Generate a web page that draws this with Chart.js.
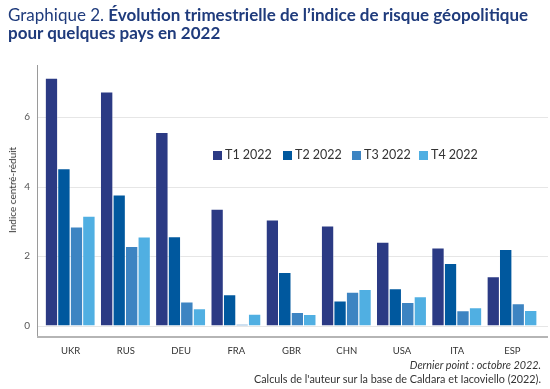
<!DOCTYPE html>
<html>
<head>
<meta charset="utf-8">
<script src="https://cdn.jsdelivr.net/npm/chart.js@4/dist/chart.umd.min.js"></script>
<style>
    body { margin: 0; background: #fff; font-family: Lato, "Open Sans", sans-serif; }
    #wrap { position: relative; width: 550px; height: 389px; overflow: hidden; }
    #title { position: absolute; left: 8px; top: 6px; font-size: 17px; line-height: 18px; color: #1f3b7c; font-weight: 700; }
    #title .light { font-weight: 400; }
    #chart { position: absolute; left: 0; top: 0; }
    #ytitle { position: absolute; left: 12px; top: 190px; font-size: 10px; color: #333; white-space: nowrap;
              transform: translate(-50%, -50%) rotate(-90deg); }
    #legend { position: absolute; top: 147px; left: 213px; font-size: 12.5px; color: #333; white-space: nowrap; }
    #legend span.item { position: absolute; top: 0; }
    #legend i { display: inline-block; width: 9px; height: 9px; margin-right: 3px; vertical-align: -1px; }
    .note { position: absolute; right: 9px; font-size: 10.8px; color: #333; white-space: nowrap; }
</style>
</head>
<body>
<div id="wrap">
    <canvas id="chart" width="550" height="389"></canvas>
    <div id="title"><span class="light">Graphique 2.</span> Évolution trimestrielle de l’indice de risque géopolitique<br>pour quelques pays en 2022</div>
    <div id="ytitle">Indice centré-réduit</div>
    <div id="legend"></div>
    <div class="note" style="top: 358px; font-style: italic;">Dernier point : octobre 2022.</div>
    <div class="note" style="top: 372px;">Calculs de l'auteur sur la base de Caldara et Iacoviello (2022).</div>
</div>
<script>
//------------------------------------------- Data -------------------------------------------//
const countries = ['UKR', 'RUS', 'DEU', 'FRA', 'GBR', 'CHN', 'USA', 'ITA', 'ESP'];
const t1_2022 = [7.13, 6.74, 5.57, 3.36, 3.05, 2.88, 2.41, 2.25, 1.42];
const t2_2022 = [4.53, 3.77, 2.57, 0.90, 1.54, 0.72, 1.07, 1.80, 2.20];
const t3_2022 = [2.85, 2.29, 0.69, 0.05, 0.39, 0.97, 0.68, 0.44, 0.64];
const t4_2022 = [3.16, 2.56, 0.50, 0.34, 0.33, 1.05, 0.84, 0.53, 0.45];
const series_labels = ['T1 2022', 'T2 2022', 'T3 2022', 'T4 2022'];
const y_ticks = [0, 2, 4, 6];

const colors = ['#2b3a84', '#00589e', '#3d84c2', '#50afe2'];

//------------------------------------------- Helpers -------------------------------------------//

// grid lines and axis lines go a bit past the bars on the left and right
const axisLines = {
    id: 'axisLines',
    beforeDatasetsDraw(chart) {
        const ctx = chart.ctx;
        const y = chart.scales.y;
        const area = chart.chartArea;
        const x0 = area.left - 6;
        const x1 = area.right + 8;
        ctx.save();
        ctx.strokeStyle = '#e6e6e6';
        ctx.lineWidth = 1;
        y_ticks.forEach(v => {
            const py = Math.round(y.getPixelForValue(v)) + 0.5;
            ctx.beginPath();
            ctx.moveTo(x0, py);
            ctx.lineTo(x1, py);
            ctx.stroke();
        });
        ctx.strokeStyle = '#9a9a9a';
        ctx.beginPath();
        ctx.moveTo(x0 + 0.5, area.top);
        ctx.lineTo(x0 + 0.5, area.bottom);
        ctx.stroke();
        ctx.strokeStyle = '#b5b5b5';
        ctx.lineWidth = 2;
        ctx.beginPath();
        ctx.moveTo(x0, area.bottom);
        ctx.lineTo(x1, area.bottom);
        ctx.stroke();
        ctx.restore();
    }
};

var datasets = [t1_2022, t2_2022, t3_2022, t4_2022].map((d, i) => ({
    label: series_labels[i],
    data: d,
    backgroundColor: colors[i],
    borderColor: 'rgba(255,255,255,0.45)',
    borderWidth: { top: 1, right: 1, left: 0, bottom: 0 },
    categoryPercentage: 0.905,
    barPercentage: 1.0
}));

var chart = new Chart(document.getElementById('chart'), {
    type: 'bar',
    data: { labels: countries, datasets: datasets },
    options: {
        responsive: false,
        animation: false,
        layout: { padding: { top: 65, right: 10, bottom: 27, left: 0 } },
        plugins: { legend: { display: false }, tooltip: { enabled: false } },
        scales: {
            x: {
                grid: { display: false, drawTicks: false },
                border: { display: false },
                ticks: { color: '#333', font: { family: 'Lato', size: 9.5 }, padding: 8 },
                afterFit: s => { s.height = 25; }
            },
            y: {
                min: -0.33,
                max: 7.5,
                grid: { display: false, drawTicks: false },
                border: { display: false },
                afterBuildTicks: s => { s.ticks = y_ticks.map(v => ({ value: v })); },
                ticks: { color: '#555', font: { family: 'Lato', size: 10 }, padding: 13 },
                afterFit: s => { s.width = 43; }
            }
        }
    },
    plugins: [axisLines]
});

//------------------------------------------- Legend -------------------------------------------//
var legend = document.getElementById('legend');
var legend_offsets = [0, 70, 139, 206];
series_labels.forEach((lab, i) => {
    legend.innerHTML += '<span class="item" style="left:' + legend_offsets[i] + 'px"><i style="background:' + colors[i] + '"></i>' + lab + '</span>';
});
</script>
</body>
</html>
